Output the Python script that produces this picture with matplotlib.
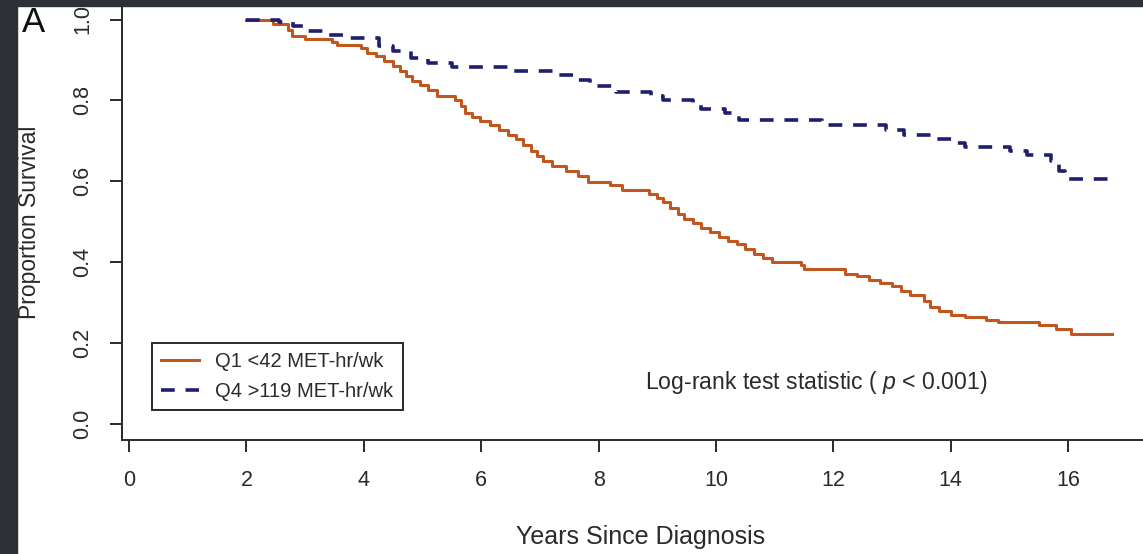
import matplotlib
matplotlib.use("Agg")
import matplotlib.pyplot as plt
from matplotlib.patches import Rectangle

plt.rcParams['font.family'] = ['Liberation Sans', 'DejaVu Sans']
plt.rcParams['mathtext.fontset'] = 'custom'
plt.rcParams['mathtext.it'] = 'Liberation Sans:italic'
plt.rcParams['mathtext.rm'] = 'Liberation Sans'

# Kaplan-Meier steps (time in years, survival after the step)
q1_time = [2.00, 2.45, 2.70, 2.78, 3.00, 3.45, 3.55, 3.95, 4.05, 4.20, 4.35, 4.50,
           4.62, 4.72, 4.82, 4.95, 5.10, 5.25, 5.55, 5.65, 5.72, 5.85, 5.98, 6.15,
           6.30, 6.45, 6.60, 6.72, 6.85, 6.95, 7.05, 7.20, 7.45, 7.65, 7.82, 8.20,
           8.40, 8.85, 9.00, 9.10, 9.22, 9.35, 9.45, 9.60, 9.75, 9.90, 10.05, 10.20,
           10.35, 10.50, 10.65, 10.80, 10.95, 11.45, 11.50, 12.20, 12.40, 12.60,
           12.80, 13.00, 13.15, 13.30, 13.55, 13.65, 13.80, 14.00, 14.25, 14.60,
           14.80, 15.50, 15.80, 16.05, 16.75]
q1_surv = [1.000, 0.990, 0.975, 0.960, 0.952, 0.945, 0.938, 0.930, 0.918, 0.910, 0.898, 0.885,
           0.872, 0.860, 0.848, 0.838, 0.826, 0.812, 0.800, 0.785, 0.770, 0.758, 0.748, 0.738,
           0.728, 0.715, 0.705, 0.690, 0.675, 0.662, 0.650, 0.638, 0.625, 0.612, 0.598, 0.590,
           0.578, 0.568, 0.558, 0.548, 0.535, 0.520, 0.508, 0.497, 0.485, 0.475, 0.462, 0.452,
           0.445, 0.432, 0.420, 0.410, 0.400, 0.392, 0.382, 0.372, 0.365, 0.357,
           0.348, 0.340, 0.330, 0.318, 0.305, 0.290, 0.280, 0.270, 0.265, 0.258,
           0.252, 0.245, 0.235, 0.222, 0.222]

q4_time = [2.00, 2.55, 2.80, 3.05, 3.30, 3.65, 4.25, 4.50, 4.80, 5.10, 5.50, 6.50,
           7.30, 7.60, 7.85, 8.30, 8.90, 9.10, 9.60, 9.75, 10.15, 10.40, 11.80, 12.90,
           13.20, 13.70, 14.05, 14.25, 15.00, 15.30, 15.70, 15.85, 15.95, 16.75]
q4_surv = [1.000, 0.995, 0.985, 0.972, 0.962, 0.955, 0.935, 0.922, 0.905, 0.893, 0.882, 0.872,
           0.862, 0.850, 0.835, 0.822, 0.810, 0.800, 0.790, 0.778, 0.768, 0.752, 0.740, 0.728,
           0.715, 0.705, 0.695, 0.685, 0.675, 0.665, 0.650, 0.625, 0.605, 0.605]

labels = ["Q1 <42 MET-hr/wk", "Q4 >119 MET-hr/wk"]
xticks = [0, 2, 4, 6, 8, 10, 12, 14, 16]
yticks = [0.0, 0.2, 0.4, 0.6, 0.8, 1.0]

W, H = 1143, 554
fig = plt.figure(figsize=(W / 100, H / 100), dpi=100)
ax = fig.add_axes([122 / W, (H - 440) / H, 1 - 122 / W, 440 / H])

ax.step(q1_time, q1_surv, where='post', color='#c2561f', lw=2.2, label=labels[0])
ax.step(q4_time, q4_surv, where='post', color='#1f1f6e', lw=2.6,
        dashes=(3.8, 3.0), label=labels[1])

ax.set_xlim(-0.12, (W - 129) / 58.7)
ax.set_ylim(-16 / 404.5, 424 / 404.5)
ax.set_xticks(xticks)
ax.set_xticklabels([str(t) for t in xticks])
ax.set_yticks(yticks)
ax.set_yticklabels(["%.1f" % t for t in yticks], rotation=90, va='center')
for s in ['top', 'right']:
    ax.spines[s].set_visible(False)
for s in ['left', 'bottom']:
    ax.spines[s].set_linewidth(1.4)
    ax.spines[s].set_color('#2a2a2a')
ax.tick_params(axis='both', direction='out', length=8.5, width=1.4, color='#2a2a2a',
               labelsize=15.5, labelcolor='#2a2a2a')
ax.tick_params(axis='x', pad=13)
ax.tick_params(axis='y', pad=12)

leg = ax.legend(loc='upper left', bbox_to_anchor=(152 / W, 1 - 343 / H),
                bbox_transform=fig.transFigure, borderaxespad=0, fontsize=14.5,
                handlelength=1.9, handletextpad=0.8, labelspacing=0.55,
                borderpad=0.45, fancybox=False, framealpha=1)
leg.get_frame().set_edgecolor('#2a2a2a')
leg.get_frame().set_linewidth(1.4)
for t in leg.get_texts():
    t.set_color('#2a2a2a')

fig.text(645 / W, 1 - 383 / H, r"Log-rank test statistic ( $\it{p}$ < 0.001)",
         fontsize=16.6, va='center', ha='left', color='#2a2a2a')
fig.text(641 / W, 1 - 537 / H, "Years Since Diagnosis", fontsize=18,
         ha='center', va='center', color='#2a2a2a')
fig.text(30 / W, 1 - 222 / H, "Proportion Survival", fontsize=16.5, rotation=90,
         ha='center', va='center', color='#2a2a2a')
fig.text(22 / W, 1 - 22 / H, "A", fontsize=25, ha='left', va='center', color='#111111')

# dark frame around the picture
fig.add_artist(Rectangle((0, 0), 17 / W, 1, transform=fig.transFigure,
                         color='#2e3038', zorder=10))
fig.add_artist(Rectangle((0, 1 - 6 / H), 1, 6 / H, transform=fig.transFigure,
                         color='#2e3038', zorder=10))

fig.savefig("out.png", dpi=100)
